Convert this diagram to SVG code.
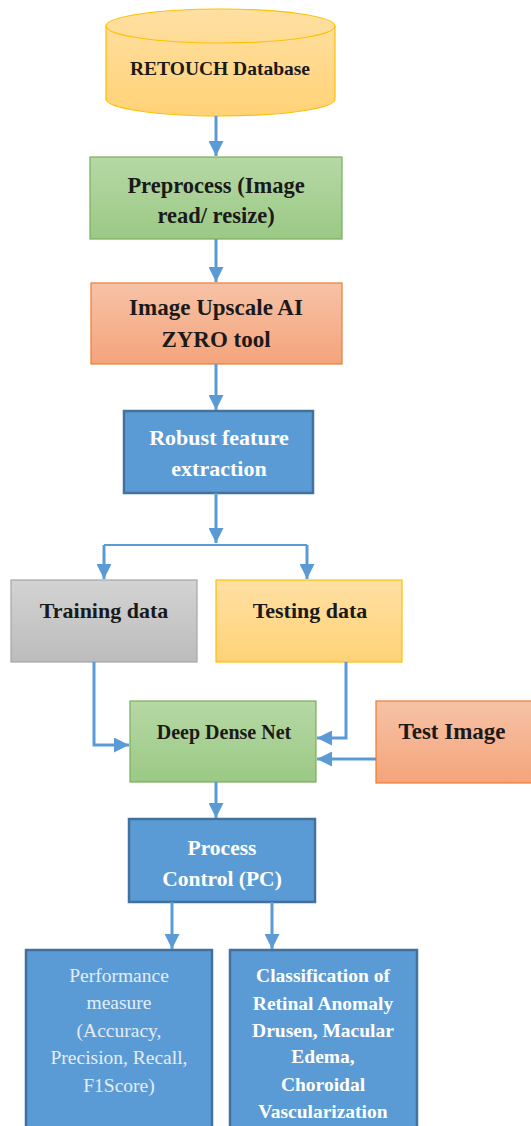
<svg xmlns="http://www.w3.org/2000/svg" width="531" height="1126" viewBox="0 0 531 1126">
  <defs>
    <linearGradient id="gYellow" x1="0" y1="0" x2="0" y2="1">
      <stop offset="0" stop-color="#ffe0a3"/>
      <stop offset="1" stop-color="#ffd277"/>
    </linearGradient>
    <linearGradient id="gGreen" x1="0" y1="0" x2="0" y2="1">
      <stop offset="0" stop-color="#b6d8a5"/>
      <stop offset="1" stop-color="#9bc985"/>
    </linearGradient>
    <linearGradient id="gOrange" x1="0" y1="0" x2="0" y2="1">
      <stop offset="0" stop-color="#f7c2a6"/>
      <stop offset="1" stop-color="#f4a47b"/>
    </linearGradient>
    <linearGradient id="gGray" x1="0" y1="0" x2="0" y2="1">
      <stop offset="0" stop-color="#d3d3d3"/>
      <stop offset="1" stop-color="#bcbcbc"/>
    </linearGradient>
    <marker id="arrow" viewBox="0 0 10 10" refX="10" refY="5" markerWidth="5" markerHeight="5" markerUnits="strokeWidth" orient="auto">
      <path d="M0,0 L10,5 L0,10 Z" fill="#5b9bd5"/>
    </marker>
    <style>
      .t { font-family: "Liberation Serif", "DejaVu Serif", serif; font-weight: bold; text-anchor: middle; fill: #1a1a1a; }
      .w { fill: #ffffff; }
      .lt { font-weight: normal; fill: #e4edf7; }
      .green { fill: url(#gGreen); stroke: #78ae5a; stroke-width: 1.2; }
      .orange { fill: url(#gOrange); stroke: #ed7d31; stroke-width: 1.2; }
      .yellow { fill: url(#gYellow); stroke: #ffc000; stroke-width: 1.2; }
      .gray { fill: url(#gGray); stroke: #a5a5a5; stroke-width: 1.2; }
      .blue { fill: #5b9bd5; stroke: #41719c; stroke-width: 2.5; }
      .c { fill: none; stroke: #5b9bd5; stroke-width: 3; marker-end: url(#arrow); }
    </style>
  </defs>

  <!-- database cylinder -->
  <g id="database">
    <path class="yellow" d="M106,26 A114.5,17 0 0 1 335,26 L335,99 A114.5,17 0 0 1 106,99 Z"/>
    <path d="M106,26 A114.5,17 0 0 0 335,26" fill="none" stroke="#ffc000" stroke-width="1.2"/>
    <text class="t" x="220" y="75" font-size="19.5">RETOUCH Database</text>
  </g>

  <g id="preprocess">
    <rect class="green" x="90" y="157" width="252" height="82"/>
    <text class="t" x="216" y="193" font-size="22.5">Preprocess (Image</text>
    <text class="t" x="216" y="223" font-size="22.5">read/ resize)</text>
  </g>

  <g id="upscale">
    <rect class="orange" x="91" y="283" width="251" height="81"/>
    <text class="t" x="216" y="315" font-size="23">Image Upscale AI</text>
    <text class="t" x="216" y="347" font-size="23">ZYRO tool</text>
  </g>

  <g id="features">
    <rect class="blue" x="124" y="411" width="189" height="82"/>
    <text class="t w" x="219" y="445" font-size="22">Robust feature</text>
    <text class="t w" x="219" y="476" font-size="22">extraction</text>
  </g>

  <g id="training">
    <rect class="gray" x="11" y="580" width="186" height="82"/>
    <text class="t" x="104" y="618" font-size="22">Training data</text>
  </g>

  <g id="testing">
    <rect class="yellow" x="216" y="580" width="186" height="82"/>
    <text class="t" x="310" y="618" font-size="22">Testing data</text>
  </g>

  <g id="densenet">
    <rect class="green" x="130" y="701" width="186" height="81"/>
    <text class="t" x="224" y="739" font-size="20">Deep Dense Net</text>
  </g>

  <g id="testimage">
    <rect class="orange" x="376" y="701" width="160" height="82"/>
    <text class="t" x="452" y="739" font-size="23">Test Image</text>
  </g>

  <g id="control">
    <rect class="blue" x="129" y="819" width="186" height="83"/>
    <text class="t w" x="222" y="855" font-size="21.5">Process</text>
    <text class="t w" x="222" y="886" font-size="21.5">Control (PC)</text>
  </g>

  <g id="performance">
    <rect class="blue" x="26" y="950" width="186" height="190"/>
    <text class="t lt" x="119" y="982" font-size="19.5">Performance</text>
    <text class="t lt" x="119" y="1009" font-size="19.5">measure</text>
    <text class="t lt" x="119" y="1037" font-size="19.5">(Accuracy,</text>
    <text class="t lt" x="119" y="1064" font-size="19.5">Precision, Recall,</text>
    <text class="t lt" x="119" y="1092" font-size="19.5">F1Score)</text>
  </g>

  <g id="classification">
    <rect class="blue" x="230" y="950" width="187" height="190"/>
    <text class="t w" x="323" y="982" font-size="19.5">Classification of</text>
    <text class="t w" x="323" y="1010" font-size="19.5">Retinal Anomaly</text>
    <text class="t w" x="323" y="1037" font-size="19.5">Drusen, Macular</text>
    <text class="t w" x="323" y="1063" font-size="19.5">Edema,</text>
    <text class="t w" x="323" y="1091" font-size="19.5">Choroidal</text>
    <text class="t w" x="323" y="1118" font-size="19.5">Vascularization</text>
  </g>

  <!-- connectors -->
  <g id="connectors">
    <path class="c" d="M216,116 L216,156"/>
    <path class="c" d="M216,239 L216,282"/>
    <path class="c" d="M216,364 L216,410"/>
    <path class="c" d="M216,493 L216,543"/>
    <path d="M104,545 L307,545" fill="none" stroke="#5b9bd5" stroke-width="2"/>
    <path class="c" d="M104,545 L104,579"/>
    <path class="c" d="M307,545 L307,579"/>
    <path class="c" d="M94,662 L94,745 L129,745"/>
    <path class="c" d="M346,662 L346,738 L317,738"/>
    <path class="c" d="M376,759 L317,759"/>
    <path class="c" d="M216,782 L216,818"/>
    <path class="c" d="M172,902 L172,949"/>
    <path class="c" d="M272,902 L272,949"/>
  </g>
</svg>
